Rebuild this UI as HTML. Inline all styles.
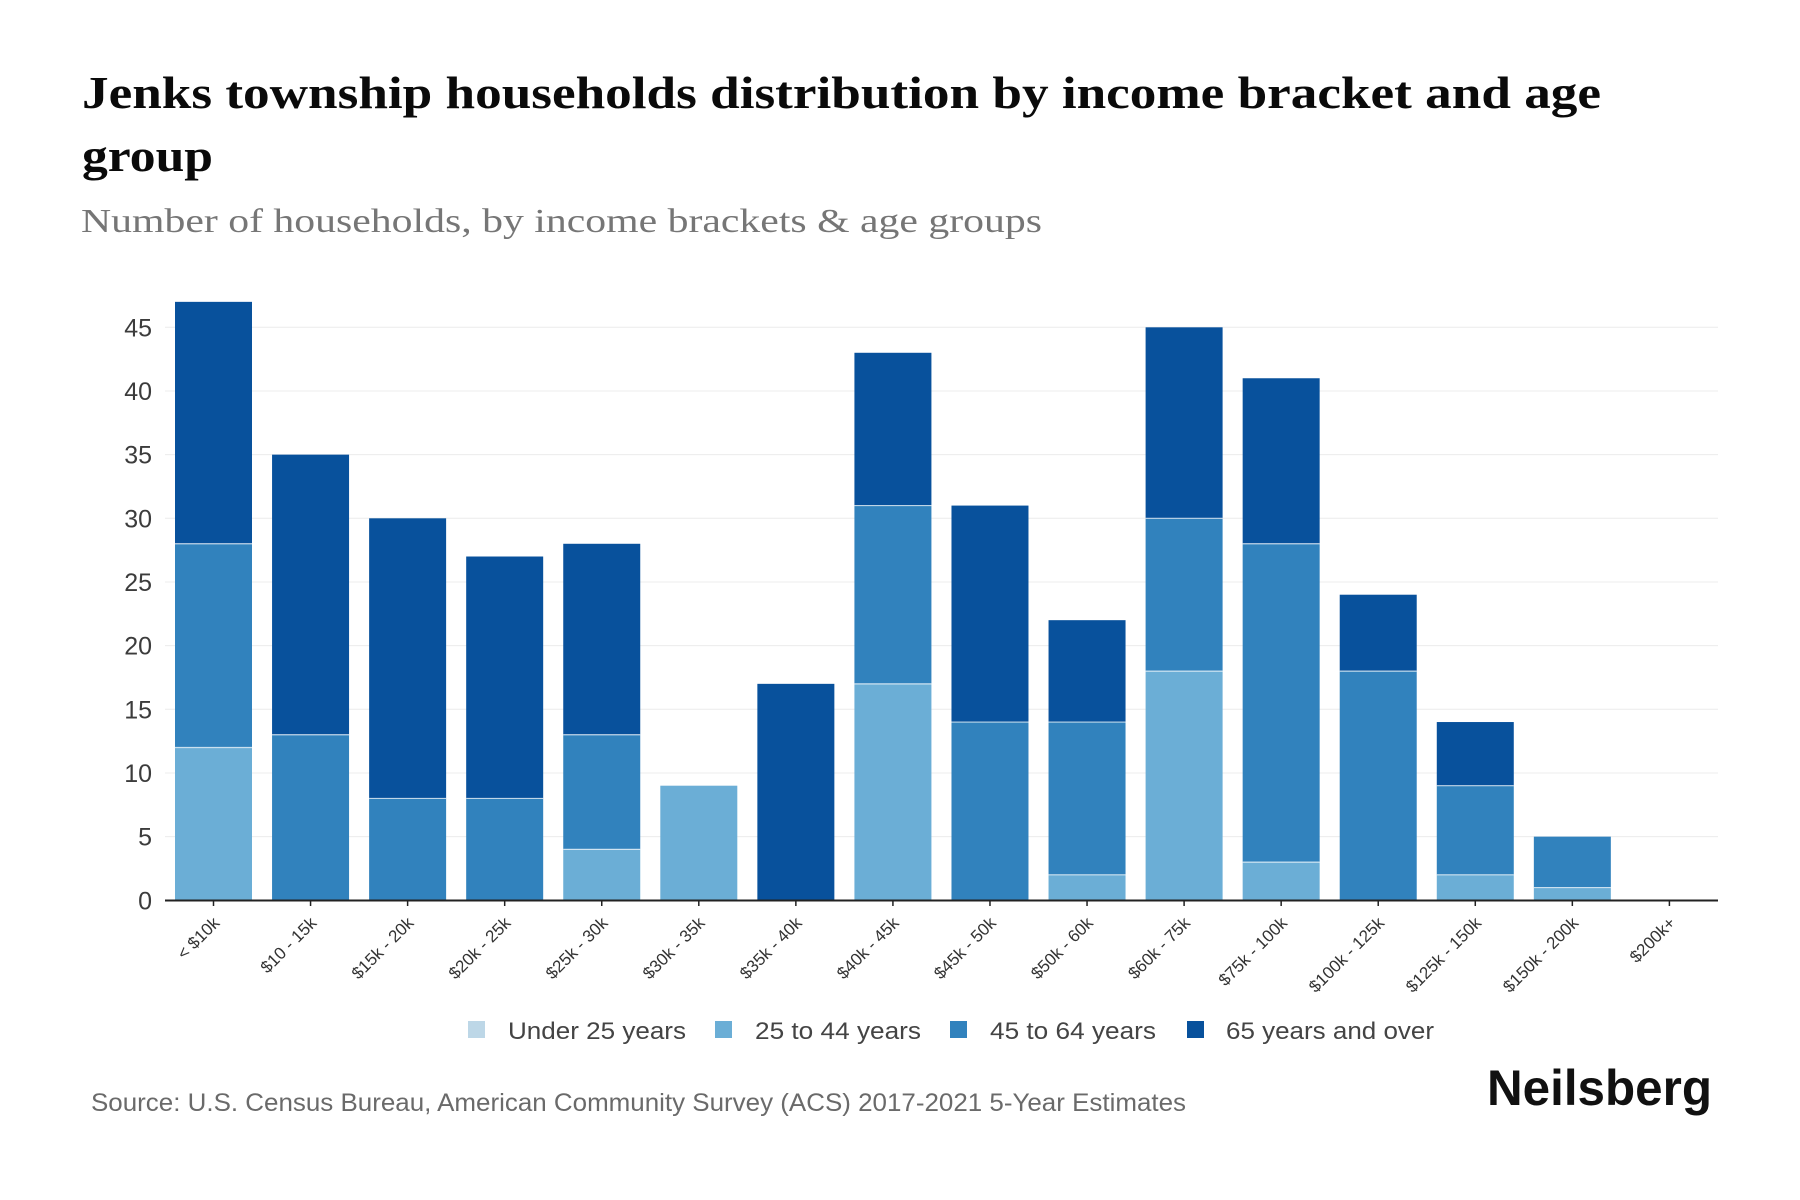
<!DOCTYPE html>
<html>
<head>
<meta charset="utf-8">
<style>
  html, body { margin: 0; padding: 0; background: #ffffff; }
  svg { display: block; }
  .ttl { font-family: "Liberation Serif", serif; font-weight: bold; fill: #0a0a0a; }
  .sub { font-family: "Liberation Serif", serif; fill: #767676; }
  .sans { font-family: "Liberation Sans", sans-serif; }
</style>
</head>
<body>
<svg width="1800" height="1200" viewBox="0 0 1800 1200" xmlns="http://www.w3.org/2000/svg">
  <rect x="0" y="0" width="1800" height="1200" fill="#ffffff"/>

  <!-- Title -->
  <text class="ttl" x="82" y="108" font-size="46" textLength="1519" lengthAdjust="spacingAndGlyphs">Jenks township households distribution by income bracket and age</text>
  <text class="ttl" x="82" y="171" font-size="46" textLength="131" lengthAdjust="spacingAndGlyphs">group</text>
  <!-- Subtitle -->
  <text class="sub" x="81" y="232" font-size="34" textLength="961" lengthAdjust="spacingAndGlyphs">Number of households, by income brackets &amp; age groups</text>

  <!-- Gridlines -->
  <g stroke="#ececec" stroke-width="1">
    <line x1="165" y1="836.6" x2="1718" y2="836.6"/>
    <line x1="165" y1="773.0" x2="1718" y2="773.0"/>
    <line x1="165" y1="709.3" x2="1718" y2="709.3"/>
    <line x1="165" y1="645.6" x2="1718" y2="645.6"/>
    <line x1="165" y1="581.98" x2="1718" y2="581.98"/>
    <line x1="165" y1="518.3" x2="1718" y2="518.3"/>
    <line x1="165" y1="454.6" x2="1718" y2="454.6"/>
    <line x1="165" y1="391.0" x2="1718" y2="391.0"/>
    <line x1="165" y1="327.3" x2="1718" y2="327.3"/>
  </g>

  <!-- Y tick labels -->
  <g class="sans" font-size="25" fill="#3c3c3c" text-anchor="end">
    <text x="152" y="909.3">0</text>
    <text x="152" y="845.6">5</text>
    <text x="152" y="782.0">10</text>
    <text x="152" y="718.3">15</text>
    <text x="152" y="654.6">20</text>
    <text x="152" y="591.0">25</text>
    <text x="152" y="527.3">30</text>
    <text x="152" y="463.6">35</text>
    <text x="152" y="400.0">40</text>
    <text x="152" y="336.3">45</text>
  </g>

  <!-- Bars -->
  <!-- 25 to 44 -->
  <g fill="#6baed6">
    <rect x="175.0" y="747.50" width="77" height="152.8"/>
    <rect x="563.24" y="849.37" width="77" height="50.93"/>
    <rect x="660.3" y="785.70" width="77" height="114.6"/>
    <rect x="854.42" y="683.84" width="77" height="216.46"/>
    <rect x="1048.54" y="874.83" width="77" height="25.47"/>
    <rect x="1145.6" y="671.11" width="77" height="229.19"/>
    <rect x="1242.66" y="862.10" width="77" height="38.2"/>
    <rect x="1436.78" y="874.83" width="77" height="25.47"/>
    <rect x="1533.84" y="887.57" width="77" height="12.73"/>
  </g>
  <!-- 45 to 64 -->
  <g fill="#3182bd">
    <rect x="175.0" y="543.78" width="77" height="203.72"/>
    <rect x="272.06" y="734.77" width="77" height="165.53"/>
    <rect x="369.12" y="798.44" width="77" height="101.86"/>
    <rect x="466.18" y="798.44" width="77" height="101.86"/>
    <rect x="563.24" y="734.77" width="77" height="114.6"/>
    <rect x="854.42" y="505.58" width="77" height="178.26"/>
    <rect x="951.48" y="722.04" width="77" height="178.26"/>
    <rect x="1048.54" y="722.04" width="77" height="152.79"/>
    <rect x="1145.6" y="518.31" width="77" height="152.8"/>
    <rect x="1242.66" y="543.78" width="77" height="318.32"/>
    <rect x="1339.72" y="671.11" width="77" height="229.19"/>
    <rect x="1436.78" y="785.70" width="77" height="89.13"/>
    <rect x="1533.84" y="836.64" width="77" height="50.93"/>
  </g>
  <!-- 65 and over -->
  <g fill="#08519c">
    <rect x="175.0" y="301.85" width="77" height="241.93"/>
    <rect x="272.06" y="454.64" width="77" height="280.13"/>
    <rect x="369.12" y="518.31" width="77" height="280.13"/>
    <rect x="466.18" y="556.51" width="77" height="241.93"/>
    <rect x="563.24" y="543.78" width="77" height="190.99"/>
    <rect x="757.36" y="683.84" width="77" height="216.46"/>
    <rect x="854.42" y="352.78" width="77" height="152.8"/>
    <rect x="951.48" y="505.58" width="77" height="216.46"/>
    <rect x="1048.54" y="620.17" width="77" height="101.87"/>
    <rect x="1145.6" y="327.32" width="77" height="190.99"/>
    <rect x="1242.66" y="378.25" width="77" height="165.53"/>
    <rect x="1339.72" y="594.71" width="77" height="76.4"/>
    <rect x="1436.78" y="722.04" width="77" height="63.66"/>
  </g>

  <!-- Segment separators -->
  <g stroke="#ffffff" stroke-opacity="0.7" stroke-width="1.2">
    <line x1="175.0" y1="747.5" x2="252.0" y2="747.5"/>
    <line x1="175.0" y1="543.78" x2="252.0" y2="543.78"/>
    <line x1="272.06" y1="734.77" x2="349.06" y2="734.77"/>
    <line x1="369.12" y1="798.44" x2="446.12" y2="798.44"/>
    <line x1="466.18" y1="798.44" x2="543.18" y2="798.44"/>
    <line x1="563.24" y1="849.37" x2="640.24" y2="849.37"/>
    <line x1="563.24" y1="734.77" x2="640.24" y2="734.77"/>
    <line x1="854.42" y1="683.84" x2="931.42" y2="683.84"/>
    <line x1="854.42" y1="505.58" x2="931.42" y2="505.58"/>
    <line x1="951.48" y1="722.04" x2="1028.48" y2="722.04"/>
    <line x1="1048.54" y1="874.83" x2="1125.54" y2="874.83"/>
    <line x1="1048.54" y1="722.04" x2="1125.54" y2="722.04"/>
    <line x1="1145.6" y1="671.11" x2="1222.6" y2="671.11"/>
    <line x1="1145.6" y1="518.31" x2="1222.6" y2="518.31"/>
    <line x1="1242.66" y1="862.1" x2="1319.66" y2="862.1"/>
    <line x1="1242.66" y1="543.78" x2="1319.66" y2="543.78"/>
    <line x1="1339.72" y1="671.11" x2="1416.72" y2="671.11"/>
    <line x1="1436.78" y1="874.83" x2="1513.78" y2="874.83"/>
    <line x1="1436.78" y1="785.7" x2="1513.78" y2="785.7"/>
    <line x1="1533.84" y1="887.57" x2="1610.84" y2="887.57"/>
  </g>

  <!-- X axis -->
  <line x1="165" y1="900.5" x2="1718" y2="900.5" stroke="#222" stroke-width="2"/>
  <g stroke="#222" stroke-width="1.5">
    <line x1="213.5" y1="901" x2="213.5" y2="906"/>
    <line x1="310.56" y1="901" x2="310.56" y2="906"/>
    <line x1="407.62" y1="901" x2="407.62" y2="906"/>
    <line x1="504.68" y1="901" x2="504.68" y2="906"/>
    <line x1="601.74" y1="901" x2="601.74" y2="906"/>
    <line x1="698.8" y1="901" x2="698.8" y2="906"/>
    <line x1="795.86" y1="901" x2="795.86" y2="906"/>
    <line x1="892.92" y1="901" x2="892.92" y2="906"/>
    <line x1="989.98" y1="901" x2="989.98" y2="906"/>
    <line x1="1087.04" y1="901" x2="1087.04" y2="906"/>
    <line x1="1184.1" y1="901" x2="1184.1" y2="906"/>
    <line x1="1281.16" y1="901" x2="1281.16" y2="906"/>
    <line x1="1378.22" y1="901" x2="1378.22" y2="906"/>
    <line x1="1475.28" y1="901" x2="1475.28" y2="906"/>
    <line x1="1572.34" y1="901" x2="1572.34" y2="906"/>
    <line x1="1669.4" y1="901" x2="1669.4" y2="906"/>
  </g>

  <!-- X tick labels -->
  <g class="sans" font-size="17" fill="#333" text-anchor="end">
    <text transform="translate(220.5,924) rotate(-45)">&lt; $10k</text>
    <text transform="translate(317.56,924) rotate(-45)">$10 - 15k</text>
    <text transform="translate(414.62,924) rotate(-45)">$15k - 20k</text>
    <text transform="translate(511.68,924) rotate(-45)">$20k - 25k</text>
    <text transform="translate(608.74,924) rotate(-45)">$25k - 30k</text>
    <text transform="translate(705.8,924) rotate(-45)">$30k - 35k</text>
    <text transform="translate(802.86,924) rotate(-45)">$35k - 40k</text>
    <text transform="translate(899.92,924) rotate(-45)">$40k - 45k</text>
    <text transform="translate(996.98,924) rotate(-45)">$45k - 50k</text>
    <text transform="translate(1094.04,924) rotate(-45)">$50k - 60k</text>
    <text transform="translate(1191.1,924) rotate(-45)">$60k - 75k</text>
    <text transform="translate(1288.16,924) rotate(-45)">$75k - 100k</text>
    <text transform="translate(1385.22,924) rotate(-45)">$100k - 125k</text>
    <text transform="translate(1482.28,924) rotate(-45)">$125k - 150k</text>
    <text transform="translate(1579.34,924) rotate(-45)">$150k - 200k</text>
    <text transform="translate(1676.4,924) rotate(-45)">$200k+</text>
  </g>

  <!-- Legend -->
  <rect x="468" y="1021" width="17" height="17" fill="#bdd7e7"/>
  <rect x="715" y="1021" width="17" height="17" fill="#6baed6"/>
  <rect x="950" y="1021" width="17" height="17" fill="#3182bd"/>
  <rect x="1187" y="1021" width="17" height="17" fill="#08519c"/>
  <g class="sans" font-size="24" fill="#444">
    <text x="508" y="1039" textLength="178" lengthAdjust="spacingAndGlyphs">Under 25 years</text>
    <text x="755" y="1039" textLength="166" lengthAdjust="spacingAndGlyphs">25 to 44 years</text>
    <text x="990" y="1039" textLength="166" lengthAdjust="spacingAndGlyphs">45 to 64 years</text>
    <text x="1226" y="1039" textLength="208" lengthAdjust="spacingAndGlyphs">65 years and over</text>
  </g>

  <!-- Source -->
  <text class="sans" x="91" y="1111" font-size="25" fill="#6a6a6a" textLength="1095" lengthAdjust="spacingAndGlyphs">Source: U.S. Census Bureau, American Community Survey (ACS) 2017-2021 5-Year Estimates</text>

  <!-- Logo -->
  <text class="sans" x="1487" y="1105" font-size="50" font-weight="bold" fill="#111" textLength="225" lengthAdjust="spacingAndGlyphs">Neilsberg</text>
</svg>
</body>
</html>
